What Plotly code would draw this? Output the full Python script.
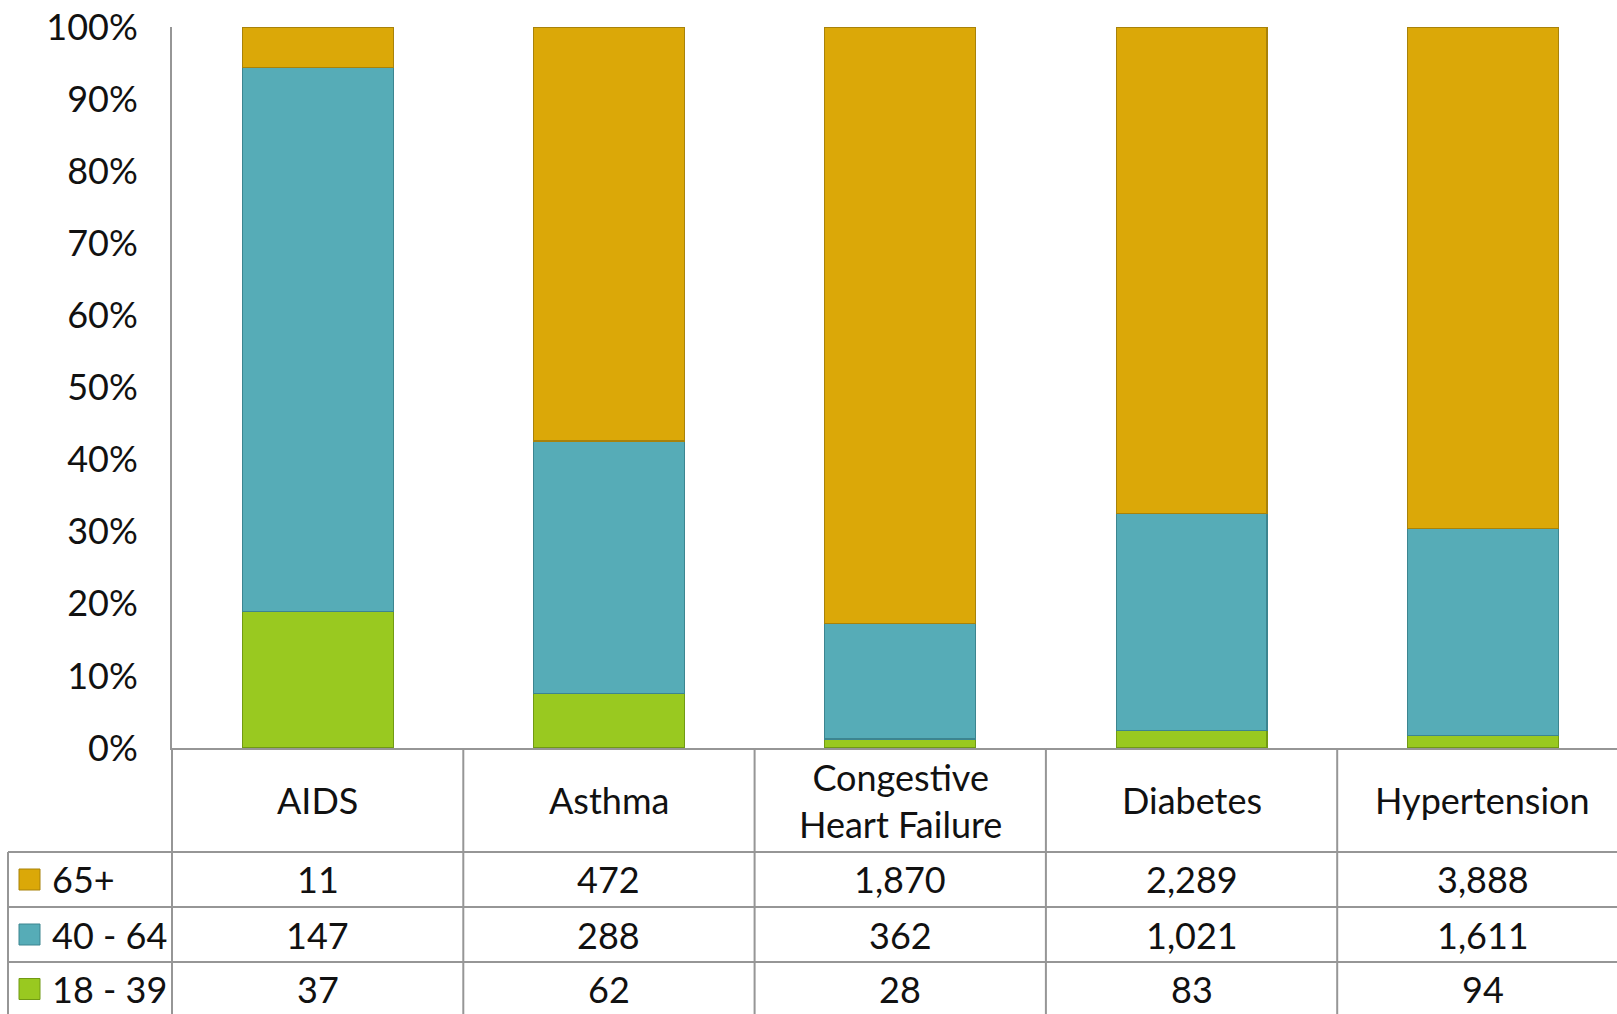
import plotly.graph_objects as go

categories = ["AIDS", "Asthma", "Congestive<br>Heart Failure", "Diabetes", "Hypertension"]
series_names = ["65+", "40 - 64", "18 - 39"]
v_65 = [11, 472, 1870, 2289, 3888]
v_40 = [147, 288, 362, 1021, 1611]
v_18 = [37, 62, 28, 83, 94]
y_ticks = [0, 10, 20, 30, 40, 50, 60, 70, 80, 90, 100]
y_tick_labels = [f"{t}%" for t in y_ticks]

colors = {"65+": "#DBA808", "40 - 64": "#56ACB7", "18 - 39": "#99C920"}
edges = {"65+": "#A8820A", "40 - 64": "#3C8590", "18 - 39": "#719A14"}

W, H = 1617, 1014
L, T, B = 172, 27, 748  # plot area pixel bounds
FONT = "Lato, 'Open Sans', sans-serif"
FS = 36
GRID = "#969696"

fig = go.Figure()
for name, vals in [("18 - 39", v_18), ("40 - 64", v_40), ("65+", v_65)]:
    fig.add_trace(go.Bar(
        x=categories, y=vals, name=name, width=0.518,
        marker=dict(color=colors[name], line=dict(color=edges[name], width=1.2)),
        showlegend=False, hoverinfo="skip",
    ))

def py(p):
    return (B - p) / (B - T)

def px(p):
    return (p - L) / (W - L)

shapes = []
line = dict(color=GRID, width=2)
for yy in [852, 907, 962]:
    shapes.append(dict(type="line", xref="paper", yref="paper", x0=px(8), x1=1.0, y0=py(yy), y1=py(yy), line=line))
for i in range(len(categories) + 1):
    xpix = L + 291.3 * i
    if xpix > W:
        break
    shapes.append(dict(type="line", xref="paper", yref="paper", x0=px(xpix), x1=px(xpix), y0=0, y1=py(H + 5), line=line))
shapes.append(dict(type="line", xref="paper", yref="paper", x0=px(8), x1=px(8), y0=py(852), y1=py(H + 5), line=line))

annotations = []
row_y = [879.5, 934.5, 989]
row_vals = [v_65, v_40, v_18]
for r, (name, vals) in enumerate(zip(series_names, row_vals)):
    for c, v in zip(categories, vals):
        annotations.append(dict(x=c, xref="x", y=py(row_y[r]), yref="paper", text=f"{v:,}",
                                showarrow=False, font=dict(family=FONT, size=FS, color="#111111"),
                                xanchor="center", yanchor="middle"))
    annotations.append(dict(x=px(50), xref="paper", y=py(row_y[r]), yref="paper", text=name,
                            showarrow=False, font=dict(family=FONT, size=FS, color="#111111"),
                            xanchor="left", yanchor="middle"))
    shapes.append(dict(type="rect", xref="paper", yref="paper", x0=px(19), x1=px(40),
                       y0=py(row_y[r] - 10.5), y1=py(row_y[r] + 10.5),
                       fillcolor=colors[name], line=dict(color=edges[name], width=1)))
for c in categories:
    annotations.append(dict(x=c, xref="x", y=py(800), yref="paper", text=c,
                            showarrow=False, font=dict(family=FONT, size=FS, color="#111111"),
                            xanchor="center", yanchor="middle"))

fig.update_layout(
    width=W, height=H,
    margin=dict(l=L, r=0, t=T, b=H - B, pad=0),
    barmode="stack", barnorm="percent",
    plot_bgcolor="white", paper_bgcolor="white",
    shapes=shapes, annotations=annotations,
    xaxis=dict(range=[-0.5, -0.5 + (W - L) / 291.3], showticklabels=False, ticks="",
               showline=True, linecolor=GRID, linewidth=2, showgrid=False, zeroline=False,
               fixedrange=True),
    yaxis=dict(range=[0, 100], tickmode="array", tickvals=y_ticks, ticktext=y_tick_labels,
               showgrid=False, zeroline=False,
               showline=True, linecolor=GRID, linewidth=2, ticks="", ticklabelstandoff=25,
               tickfont=dict(family=FONT, size=FS, color="#111111"), fixedrange=True),
    bargap=0.482,
)

fig.write_html("out.html", config={"displayModeBar": False},
               post_script="document.body.style.margin='0';document.body.style.padding='0';document.body.style.overflow='hidden';document.documentElement.style.overflow='hidden';")
